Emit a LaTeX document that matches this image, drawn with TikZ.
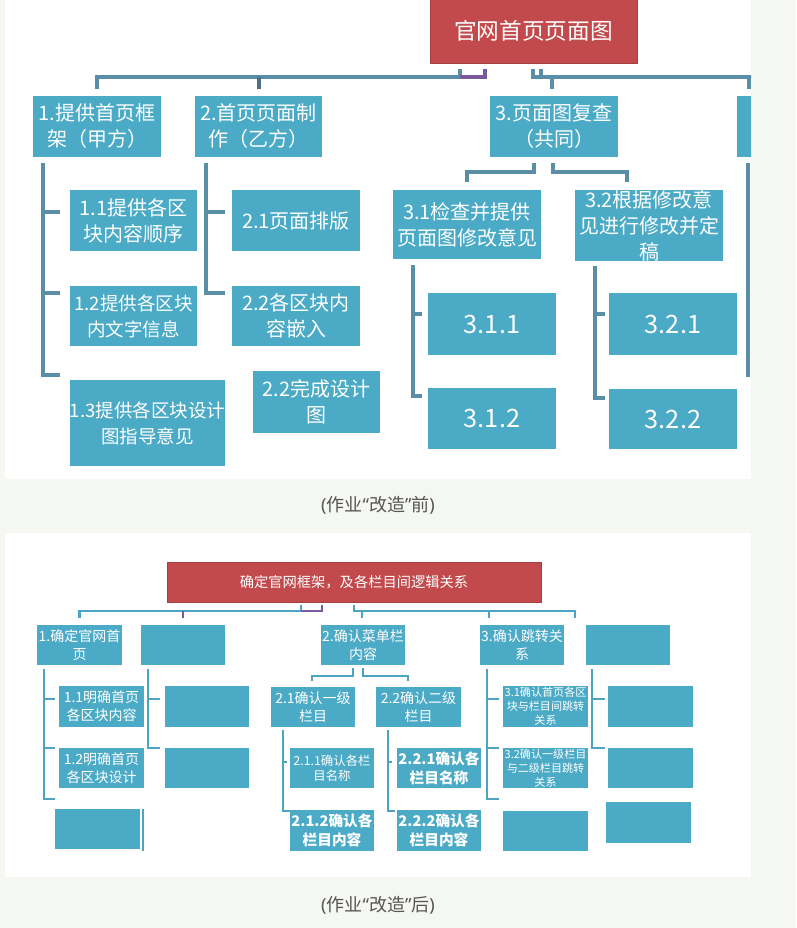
\documentclass[tikz,border=0pt]{standalone}
\usepackage{fontspec}
\setmainfont{Noto Sans CJK SC}
\newfontfamily\latinf{Noto Sans}
\usetikzlibrary{calc}
\definecolor{bg}{HTML}{F5F8F2}
\definecolor{boxc}{HTML}{4BAAC6}
\definecolor{redc}{HTML}{C24A4C}
\definecolor{lineA}{HTML}{5A8EA6}
\definecolor{lineAd}{HTML}{506F86}
\definecolor{lineB}{HTML}{4DA3C2}
\definecolor{purp}{HTML}{7A5A9C}
\definecolor{capc}{HTML}{555555}
\newcommand\bx[7]{%
  \node[#6, minimum width={(#4-#2)*0.75pt}, minimum height={(#5-#3)*0.75pt}] (#1) at ({(#2+#4)/2},{(#3+#5)/2}) {#7};}
\tikzset{
  box/.style={fill=boxc, text=white, inner sep=0pt, outer sep=0pt, align=center},
  tbox/.style={box, font=\fontsize{15}{19.5}\selectfont},
  tboxs/.style={box, font=\fontsize{13.9}{19.5}\selectfont},
  tnum/.style={box, font=\fontsize{19}{22}\selectfont},
  bbox/.style={box, font=\fontsize{10.5}{13.5}\selectfont},
  bbold/.style={box, font=\fontsize{11}{14}\selectfont\bfseries},
  bsmall/.style={box, font=\fontsize{9.3}{11.5}\selectfont},
  btiny/.style={box, font=\fontsize{8.3}{10.5}\selectfont},
  redbox/.style={fill=redc, draw=redc!85!black, line width=0.6pt, text=white, inner sep=0pt, outer sep=0pt, align=center},
  lnA/.style={draw=lineA, line width=3pt, line join=miter},
  lnAd/.style={draw=lineAd, line width=3pt},
  lnP/.style={draw=purp, line width=3pt, line join=miter},
  lnB/.style={draw=lineB, line width=1.8pt, line join=miter},
  lnBP/.style={draw=purp, line width=1.8pt, line join=miter},
  caption/.style={text=capc, font=\fontsize{13.5}{15}\selectfont, inner sep=0pt}
}
\begin{document}
\begin{tikzpicture}[x=0.75pt,y=-0.75pt]
\useasboundingbox (0,0) rectangle (796,928);
\fill[bg] (0,0) rectangle (796,928);
% ---------------- top panel ----------------
\fill[white] (5,0) rectangle (751,479);
\begin{scope}
\clip (5,0) rectangle (751,479);
\bx{T}{430}{-2}{637}{63}{redbox, font=\fontsize{17}{20}\selectfont}{官网首页页面图}
\bx{B1}{33}{96}{161}{157}{tbox}{1.提供首页框\\架（甲方）}
\bx{B2}{195}{96}{322}{157}{tbox}{2.首页页面制\\作（乙方）}
\bx{B3}{490}{96}{618}{157}{tbox}{3.页面图复查\\（共同）}
\bx{B4}{737}{96}{865}{157}{tbox}{}
\bx{B11}{70}{190}{197}{251}{tbox}{1.1提供各区\\块内容顺序}
\bx{B12}{70}{286}{197}{346}{tboxs}{1.2提供各区块\\内文字信息}
\bx{B13}{70}{380}{225}{466}{tboxs}{1.3提供各区块设计\\图指导意见}
\bx{B21}{232}{190}{360}{251}{tbox}{2.1页面排版}
\bx{B22}{232}{286}{360}{346}{tbox}{2.2各区块内\\容嵌入}
\bx{B23}{253}{371}{380}{433}{tbox}{2.2完成设计\\图}
\bx{B31}{393}{190}{541}{259}{tbox}{3.1检查并提供\\页面图修改意见}
\bx{B32}{575}{190}{723}{261}{tbox}{3.2根据修改意\\见进行修改并定\\稿}
\bx{B311}{428}{293}{556}{355}{tnum}{3.1.1}
\bx{B312}{428}{388}{556}{449}{tnum}{3.1.2}
\bx{B321}{609}{293}{737}{355}{tnum}{3.2.1}
\bx{B322}{609}{389}{737}{449}{tnum}{3.2.2}
% connectors from the title
\draw[lnA] ($(T.south west)+(30,6)$) |- ($(B1.north)+(0,-19)$) -- ($(B1.north)+(0,-7)$);
\draw[lnP] ($(T.south west)+(30,14)$) -| ($(T.south west)+(55,6)$);
\draw[lnAd] ($(B2.north)+(0,-19)$) -- ($(B2.north)+(0,-7)$);
\draw[lnA] ($(T.south)+(-1,6)$) |- ($(B4.north west)+(30,-19)$);
\draw[lnA] ($(T.south)+(7,6)$) -- +(0,8);
\draw[lnA] ($(B3.north)+(-2,-19)$) -- +(0,12);
\draw[lnA] ($(B4.north west)+(12,-19)$) -- +(0,12);
% children of 1
\draw[lnA] ($(B1.south west)+(10,6)$) |- ($(B13.north west)+(-10,-5)$);
\draw[lnA] ($(B11.north west)+(-27,22)$) -- +(17,0);
\draw[lnA] ($(B12.north west)+(-27,7)$) -- +(17,0);
% children of 2
\draw[lnA] ($(B2.south west)+(11,6)$) |- ($(B22.north west)+(-7,7)$);
\draw[lnA] ($(B21.north west)+(-26,22)$) -- +(19,0);
% children of 3
\draw[lnA] ($(B3.south)+(-20,6)$) |- ($(B31.north)+(0,-18)$) -- ($(B31.north)+(0,-8)$);
\draw[lnA] ($(B3.south)+(-1,6)$) |- ($(B32.north)+(-22,-18)$) -- +(0,10);
\draw[lnA] ($(B31.south west)+(20,6)$) |- ($(B312.north west)+(-6,8)$);
\draw[lnA] ($(B311.north west)+(-15,21)$) -- +(9,0);
\draw[lnA] ($(B32.south west)+(20,5)$) |- ($(B322.north west)+(-4,9)$);
\draw[lnA] ($(B321.north west)+(-14,21)$) -- +(10,0);
% children of 4
\draw[lnA] ($(B4.south west)+(11,6)$) -- ($(B4.south west)+(11,220)$);
\end{scope}
\node[caption] (cap1) at (378,505) {{\latinf(}作业{\latinf“}改造{\latinf”}前{\latinf)}};
% ---------------- bottom panel ----------------
\fill[white] (5,533) rectangle (751,877);
\bx{T2}{167}{562}{541}{602}{redbox, font=\fontsize{10.7}{13}\selectfont}{确定官网框架，及各栏目间逻辑关系}
\bx{C1}{37}{625}{122}{665}{bbox}{1.确定官网首\\页}
\bx{C2}{141}{625}{225}{665}{bbox}{}
\bx{C3}{321}{625}{405}{665}{bbox}{2.确认菜单栏\\内容}
\bx{C4}{480}{625}{564}{665}{bbox}{3.确认跳转关\\系}
\bx{C5}{586}{625}{670}{665}{bbox}{}
\bx{C11}{59}{686}{144}{727}{bbox}{1.1明确首页\\各区块内容}
\bx{C12}{59}{748}{144}{788}{bbox}{1.2明确首页\\各区块设计}
\bx{C13}{55}{809}{140}{849}{bbox}{}
\bx{C21}{165}{686}{249}{727}{bbox}{}
\bx{C22}{165}{748}{249}{788}{bbox}{}
\bx{D21}{271}{687}{355}{727}{bbox}{2.1确认一级\\栏目}
\bx{D22}{376}{687}{461}{727}{bbox}{2.2确认二级\\栏目}
\bx{D211}{290}{748}{374}{788}{bsmall}{2.1.1确认各栏\\目名称}
\bx{D212}{290}{810}{374}{851}{bbold}{2.1.2确认各\\栏目内容}
\bx{D221}{397}{748}{481}{788}{bbold}{2.2.1确认各\\栏目名称}
\bx{D222}{397}{810}{481}{851}{bbold}{2.2.2确认各\\栏目内容}
\bx{E1}{503}{686}{588}{727}{btiny}{3.1确认首页各区\\块与栏目间跳转\\关系}
\bx{E2}{503}{748}{588}{788}{btiny}{3.2确认一级栏目\\与二级栏目跳转\\关系}
\bx{E3}{503}{811}{588}{851}{bbox}{}
\bx{F1}{608}{686}{693}{727}{bbox}{}
\bx{F2}{608}{748}{693}{788}{bbox}{}
\bx{F3}{606}{802}{691}{843}{bbox}{}
% connectors from the title
\draw[lnB] ($(T2.south west)+(134,3)$) |- ($(C1.north)+(0,-14)$) -- +(0,7);
\draw[lnBP] ($(T2.south west)+(134,9)$) -| ($(T2.south west)+(155,3)$);
\draw[lnBP] ($(C2.north)+(0,-14)$) -- +(0,7);
\draw[lnB] ($(T2.south)+(0,3)$) |- ($(C5.north west)+(-11,-14)$) -- +(0,7);
\draw[lnB] ($(C3.north)+(-1,-14)$) -- +(0,7);
\draw[lnB] ($(C4.north west)+(9,-14)$) -- +(0,7);
% children of 1
\draw[lnB] ($(C1.south west)+(7,4)$) |- ($(C13.north west)+(0,-10)$);
\draw[lnB] ($(C11.north west)+(-15,13)$) -- +(11,0);
\draw[lnB] ($(C12.north west)+(-15,0)$) -- +(11,0);
\draw[draw=lineB, line width=1pt] ($(C13.north east)+(3,0)$) -- +(0,42);
% children of empty box
\draw[lnB] ($(C2.south west)+(7,4)$) |- ($(C22.north west)+(-5,0)$);
\draw[lnB] ($(C21.north west)+(-17,13)$) -- +(12,0);
% children of 2
\draw[lnB] ($(C3.south)+(-10,3)$) |- ($(D21.north)+(-1,-11)$) -- +(0,5);
\draw[lnB] ($(C3.south)+(0,3)$) |- ($(D22.north)+(-10.5,-11)$) -- +(0,5);
\draw[lnB] ($(D21.south west)+(12,3)$) |- ($(D212.north west)+(0,1)$);
\draw[lnB] ($(D211.north west)+(-7,14)$) -- +(4,0);
\draw[lnB] ($(D22.south west)+(12,3)$) |- ($(D222.north west)+(-2,1)$);
\draw[lnB] ($(D221.north west)+(-9,14)$) -- +(4,0);
% children of 3
\draw[lnB] ($(C4.south west)+(7,4)$) |- ($(E3.north west)+(-4,-12)$);
\draw[lnB] ($(E1.north west)+(-16,13)$) -- +(12,0);
\draw[lnB] ($(E2.north west)+(-16,0)$) -- +(12,0);
% children of last empty box
\draw[lnB] ($(C5.south west)+(6,4)$) |- ($(F2.north west)+(-3,0)$);
\draw[lnB] ($(F1.north west)+(-16,13)$) -- +(13,0);
\node[caption] (cap2) at (378,905) {{\latinf(}作业{\latinf“}改造{\latinf”}后{\latinf)}};
\end{tikzpicture}
\end{document}
